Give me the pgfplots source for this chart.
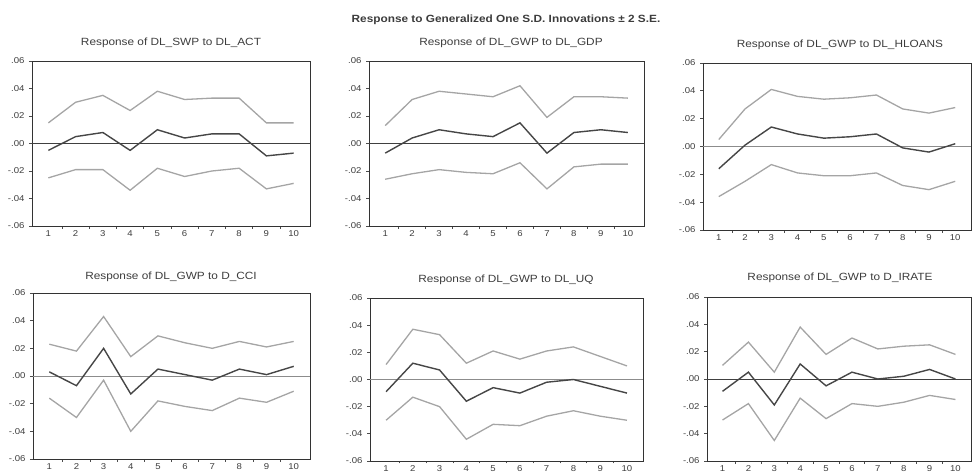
\documentclass[border=0pt]{standalone}
\usepackage{pgfplots}
\pgfplotsset{compat=1.18}
\usepackage{fontspec}
\setmainfont{Liberation Sans}
\newfontfamily\widesans[FakeStretch=1.13]{Liberation Sans}

\definecolor{band}{RGB}{165,165,165}
\definecolor{resp}{RGB}{70,70,70}
\definecolor{txt}{RGB}{60,60,60}

\pgfplotsset{
  irf/.style={
    scale only axis,
    anchor=north west,
    xmin=0.4, xmax=10.6,
    ymin=-0.06, ymax=0.06,
    xtick={1,...,10},
    major x tick style={draw=none},
    minor xtick={1.5,2.5,...,9.5},
    ytick={-0.06,-0.04,-0.02,0,0.02,0.04,0.06},
    yticklabels={-.06,-.04,-.02,.00,.02,.04,.06},
    scaled y ticks=false,
    /pgf/number format/assume math mode=true,
    xtick pos=bottom, ytick pos=left,
    tick align=outside,
    major tick length=3bp, minor tick length=2.5bp,
    axis line style={black!80, line width=0.9bp},
    tick style={black!70, line width=0.8bp},
    ticklabel style={font=\widesans\fontsize{8.5}{9}\selectfont, text=txt},
    xticklabel style={inner sep=1bp, yshift=0bp},
    yticklabel style={xshift=-1bp},
    clip=false,
  },
  up/.style={band, line width=1.3bp},
  mid/.style={resp, line width=1.4bp},
  lo/.style={band, line width=1.3bp},
}
\newcommand{\zeroline}[1]{\addplot[#1, line width=1bp, forget plot] coordinates {(0.4,0) (10.6,0)};}

\begin{document}
\begin{tikzpicture}
\useasboundingbox (0,0) rectangle (972bp,-474bp);

% --- DL_ACT ---
\begin{axis}[irf, at={(32bp,-61bp)}, width=278bp, height=165bp]
\zeroline{black!75}
\addplot[up] coordinates {(1,0.015) (2,0.030) (3,0.035) (4,0.024) (5,0.038) (6,0.032) (7,0.033) (8,0.033) (9,0.015) (10,0.015)};
\addplot[mid] coordinates {(1,-0.005) (2,0.005) (3,0.008) (4,-0.005) (5,0.010) (6,0.004) (7,0.007) (8,0.007) (9,-0.009) (10,-0.007)};
\addplot[lo] coordinates {(1,-0.025) (2,-0.019) (3,-0.019) (4,-0.034) (5,-0.018) (6,-0.024) (7,-0.020) (8,-0.018) (9,-0.033) (10,-0.029)};
\end{axis}

% --- DL_GDP ---
\begin{axis}[irf, at={(369bp,-61bp)}, width=275bp, height=165bp]
\zeroline{black!75}
\addplot[up] coordinates {(1,0.013) (2,0.032) (3,0.038) (4,0.036) (5,0.034) (6,0.042) (7,0.019) (8,0.034) (9,0.034) (10,0.033)};
\addplot[mid] coordinates {(1,-0.007) (2,0.004) (3,0.010) (4,0.007) (5,0.005) (6,0.015) (7,-0.007) (8,0.008) (9,0.010) (10,0.008)};
\addplot[lo] coordinates {(1,-0.026) (2,-0.022) (3,-0.019) (4,-0.021) (5,-0.022) (6,-0.014) (7,-0.033) (8,-0.017) (9,-0.015) (10,-0.015)};
\end{axis}

% --- DL_HLOANS ---
\begin{axis}[irf, at={(703bp,-63bp)}, width=268bp, height=167bp]
\zeroline{black!45}
\addplot[up] coordinates {(1,0.005) (2,0.027) (3,0.041) (4,0.036) (5,0.034) (6,0.035) (7,0.037) (8,0.027) (9,0.024) (10,0.028)};
\addplot[mid] coordinates {(1,-0.016) (2,0.001) (3,0.014) (4,0.009) (5,0.006) (6,0.007) (7,0.009) (8,-0.001) (9,-0.004) (10,0.002)};
\addplot[lo] coordinates {(1,-0.036) (2,-0.025) (3,-0.013) (4,-0.019) (5,-0.021) (6,-0.021) (7,-0.019) (8,-0.028) (9,-0.031) (10,-0.025)};
\end{axis}

% --- D_CCI ---
\begin{axis}[irf, at={(33bp,-293bp)}, width=277bp, height=166bp]
\zeroline{black!45}
\addplot[up] coordinates {(1,0.023) (2,0.018) (3,0.043) (4,0.014) (5,0.029) (6,0.024) (7,0.020) (8,0.025) (9,0.021) (10,0.025)};
\addplot[mid] coordinates {(1,0.003) (2,-0.007) (3,0.020) (4,-0.013) (5,0.005) (6,0.001) (7,-0.003) (8,0.005) (9,0.001) (10,0.007)};
\addplot[lo] coordinates {(1,-0.016) (2,-0.030) (3,-0.003) (4,-0.040) (5,-0.018) (6,-0.022) (7,-0.025) (8,-0.016) (9,-0.019) (10,-0.011)};
\end{axis}

% --- DL_UQ ---
\begin{axis}[irf, at={(370bp,-298bp)}, width=273bp, height=163bp]
\zeroline{black!45}
\addplot[up] coordinates {(1,0.011) (2,0.037) (3,0.033) (4,0.012) (5,0.021) (6,0.015) (7,0.021) (8,0.024) (9,0.017) (10,0.010)};
\addplot[mid] coordinates {(1,-0.009) (2,0.012) (3,0.007) (4,-0.016) (5,-0.006) (6,-0.010) (7,-0.002) (8,0.000) (9,-0.005) (10,-0.010)};
\addplot[lo] coordinates {(1,-0.030) (2,-0.013) (3,-0.020) (4,-0.044) (5,-0.033) (6,-0.034) (7,-0.027) (8,-0.023) (9,-0.027) (10,-0.030)};
\end{axis}

% --- D_IRATE ---
\begin{axis}[irf, at={(707bp,-297bp)}, width=264bp, height=164bp]
\zeroline{black!75}
\addplot[up] coordinates {(1,0.010) (2,0.027) (3,0.005) (4,0.038) (5,0.018) (6,0.030) (7,0.022) (8,0.024) (9,0.025) (10,0.018)};
\addplot[mid] coordinates {(1,-0.009) (2,0.005) (3,-0.019) (4,0.011) (5,-0.005) (6,0.005) (7,0.000) (8,0.002) (9,0.007) (10,0.000)};
\addplot[lo] coordinates {(1,-0.030) (2,-0.018) (3,-0.045) (4,-0.014) (5,-0.029) (6,-0.018) (7,-0.020) (8,-0.017) (9,-0.012) (10,-0.015)};
\end{axis}

% titles
\begin{scope}[every node/.style={text=txt, font=\widesans\fontsize{10.5}{12}\selectfont}]
\node[font=\widesans\fontsize{10.5}{12}\selectfont\bfseries] at (506bp,-20bp) {Response to Generalized One S.D. Innovations ± 2 S.E.};
\node at (171bp,-43bp) {Response of DL\_SWP to DL\_ACT};
\node at (511bp,-43bp) {Response of DL\_GWP to DL\_GDP};
\node at (840bp,-45bp) {Response of DL\_GWP to DL\_HLOANS};
\node at (171bp,-277bp) {Response of DL\_GWP to D\_CCI};
\node at (506bp,-280bp) {Response of DL\_GWP to DL\_UQ};
\node at (840bp,-278bp) {Response of DL\_GWP to D\_IRATE};
\end{scope}
\end{tikzpicture}
\end{document}
